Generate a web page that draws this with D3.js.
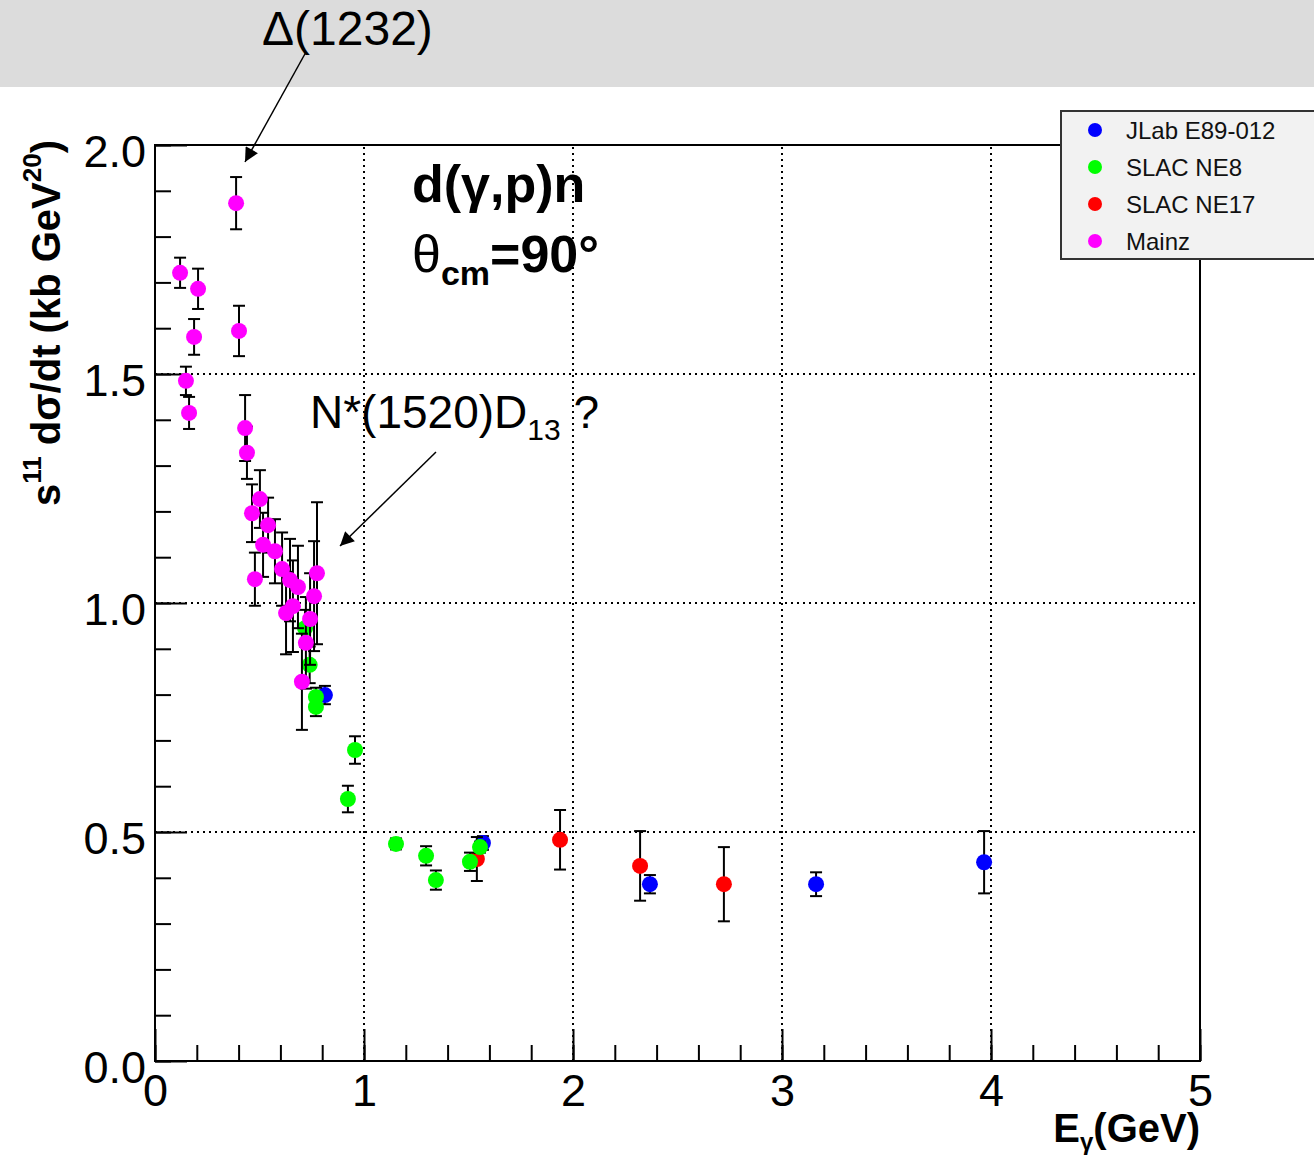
<!DOCTYPE html>
<html>
<head>
<meta charset="utf-8">
<script src="https://cdn.jsdelivr.net/npm/d3@7"></script>
<style>
  body { margin: 0; background: #fff; }
  text { font-family: "Liberation Sans", Arial, sans-serif; }
</style>
</head>
<body>
<div id="chart"></div>
<script>
// Data: E (GeV), value, error
const jlab = [
  [0.813, 0.799, 0.02], [1.569, 0.476, 0.015], [2.368, 0.386, 0.02],
  [3.163, 0.386, 0.026], [3.967, 0.434, 0.068]
];
const slacNE17 = [
  [1.540, 0.441, 0.048], [1.938, 0.483, 0.065], [2.321, 0.426, 0.076],
  [2.722, 0.386, 0.081]
];
const slacNE8 = [
  [0.718, 0.945, 0.04], [0.740, 0.865, 0.04], [0.770, 0.795, 0.02],
  [0.770, 0.773, 0.02], [0.923, 0.572, 0.029], [0.957, 0.679, 0.030],
  [1.153, 0.474, 0.012], [1.297, 0.448, 0.021], [1.344, 0.395, 0.021],
  [1.507, 0.435, 0.020], [1.555, 0.467, 0.012]
];
const mainz = [
  [0.388, 1.873, 0.057], [0.120, 1.721, 0.033], [0.206, 1.686, 0.044],
  [0.187, 1.581, 0.039], [0.402, 1.594, 0.055], [0.148, 1.485, 0.031],
  [0.163, 1.415, 0.035], [0.431, 1.382, 0.072], [0.440, 1.328, 0.057],
  [0.502, 1.227, 0.063], [0.464, 1.196, 0.063], [0.541, 1.170, 0.060],
  [0.517, 1.127, 0.070], [0.574, 1.113, 0.070], [0.478, 1.052, 0.058],
  [0.608, 1.074, 0.080], [0.646, 1.050, 0.090], [0.684, 1.035, 0.090],
  [0.775, 1.065, 0.155], [0.761, 1.015, 0.120], [0.660, 0.993, 0.100],
  [0.627, 0.978, 0.090], [0.742, 0.965, 0.100], [0.722, 0.913, 0.100],
  [0.703, 0.828, 0.105]
];

const seriesNames = ["JLab E89-012", "SLAC NE8", "SLAC NE17", "Mainz"];
const seriesColors = ["#0000ff", "#00ff00", "#ff0000", "#ff00ff"];
// drawing order (bottom to top)
const drawOrder = [[jlab, "#0000ff"], [slacNE17, "#ff0000"], [slacNE8, "#00ff00"], [mainz, "#ff00ff"]];

const xTicks = [0, 1, 2, 3, 4, 5];
const yTicks = [0, 0.5, 1.0, 1.5, 2.0];
const gridX = [1, 2, 3, 4];
const gridY = [0.5, 1.0, 1.5];

const W = 1314, H = 1155;
const svg = d3.select("#chart").append("svg")
    .attr("width", W).attr("height", H);

svg.append("rect").attr("width", W).attr("height", H).attr("fill", "#fff");
svg.append("rect").attr("width", W).attr("height", 87).attr("fill", "#dcdcdc");

const x = d3.scaleLinear().domain([0, 5]).range([155, 1200]);
const y = d3.scaleLinear().domain([0, 2]).range([1061, 145]);

// grid
svg.append("g").selectAll("line").data(gridX).enter().append("line")
    .attr("x1", d => x(d)).attr("x2", d => x(d))
    .attr("y1", y(0)).attr("y2", y(2))
    .attr("stroke", "#000").attr("stroke-width", 2).attr("stroke-dasharray", "2,4");
svg.append("g").selectAll("line").data(gridY).enter().append("line")
    .attr("x1", x(0)).attr("x2", x(5))
    .attr("y1", d => y(d)).attr("y2", d => y(d))
    .attr("stroke", "#000").attr("stroke-width", 2).attr("stroke-dasharray", "2,4");

// axes
const fontTick = 45;
svg.append("g").attr("transform", `translate(${x(0)},0)`)
    .call(d3.axisLeft(y).tickValues(d3.range(0, 2.001, 0.1)).tickSize(-16).tickFormat(""))
    .call(g => g.select(".domain").remove());
svg.append("g").attr("transform", `translate(${x(0)},0)`)
    .call(d3.axisLeft(y).tickValues(yTicks).tickSize(-32).tickPadding(9).tickFormat(d3.format(".1f")))
    .call(g => g.select(".domain").remove())
    .call(g => g.selectAll("text").attr("font-size", fontTick).attr("font-family", "Liberation Sans, Arial").attr("dy", "0.48em"));

svg.append("g").attr("transform", `translate(0,${y(0)})`)
    .call(d3.axisBottom(x).tickValues(d3.range(0, 5.001, 0.2)).tickSize(-16).tickFormat(""))
    .call(g => g.select(".domain").remove());
svg.append("g").attr("transform", `translate(0,${y(0)})`)
    .call(d3.axisBottom(x).tickValues(xTicks).tickSize(-32).tickPadding(13).tickFormat(d3.format("d")))
    .call(g => g.select(".domain").remove())
    .call(g => g.selectAll("text").attr("font-size", fontTick).attr("font-family", "Liberation Sans, Arial"));

svg.selectAll(".tick line").attr("stroke", "#000").attr("stroke-width", 2);

// frame
svg.append("rect")
    .attr("x", x(0)).attr("y", y(2))
    .attr("width", x(5) - x(0)).attr("height", y(0) - y(2))
    .attr("fill", "none").attr("stroke", "#000").attr("stroke-width", 2);

// data with error bars
const cap = 6;
drawOrder.forEach(([data, color]) => {
    const g = svg.append("g");
    g.selectAll("line.err").data(data).enter().append("line")
        .attr("x1", d => x(d[0])).attr("x2", d => x(d[0]))
        .attr("y1", d => y(d[1] - d[2])).attr("y2", d => y(d[1] + d[2]))
        .attr("stroke", "#000").attr("stroke-width", 2);
    g.selectAll("line.capT").data(data).enter().append("line")
        .attr("x1", d => x(d[0]) - cap).attr("x2", d => x(d[0]) + cap)
        .attr("y1", d => y(d[1] + d[2])).attr("y2", d => y(d[1] + d[2]))
        .attr("stroke", "#000").attr("stroke-width", 2);
    g.selectAll("line.capB").data(data).enter().append("line")
        .attr("x1", d => x(d[0]) - cap).attr("x2", d => x(d[0]) + cap)
        .attr("y1", d => y(d[1] - d[2])).attr("y2", d => y(d[1] - d[2]))
        .attr("stroke", "#000").attr("stroke-width", 2);
    g.selectAll("circle").data(data).enter().append("circle")
        .attr("cx", d => x(d[0])).attr("cy", d => y(d[1]))
        .attr("r", 8).attr("fill", color);
});

// axis titles
svg.append("text")
    .attr("transform", "translate(60,140) rotate(-90)")
    .attr("text-anchor", "end")
    .attr("font-size", 40).attr("font-weight", "bold")
    .call(t => {
        t.append("tspan").text("s");
        t.append("tspan").attr("font-size", 26).attr("dy", -19).text("11");
        t.append("tspan").attr("dy", 19).text(" dσ/dt (kb GeV");
        t.append("tspan").attr("font-size", 26).attr("dy", -19).text("20");
        t.append("tspan").attr("dy", 19).text(")");
    });

svg.append("text")
    .attr("x", 1200).attr("y", 1142)
    .attr("text-anchor", "end")
    .attr("font-size", 40).attr("font-weight", "bold")
    .call(t => {
        t.append("tspan").text("E");
        t.append("tspan").attr("font-size", 24).attr("dy", 8).text("γ");
        t.append("tspan").attr("dy", -8).text("(GeV)");
    });

// in-plot labels
svg.append("text").attr("x", 412).attr("y", 202)
    .attr("font-size", 52).attr("font-weight", "bold").text("d(γ,p)n");
svg.append("text").attr("x", 412).attr("y", 272)
    .attr("font-size", 52).attr("font-weight", "bold")
    .call(t => {
        t.append("tspan").attr("font-weight", "normal").text("θ");
        t.append("tspan").attr("font-size", 34).attr("dy", 13).text("cm");
        t.append("tspan").attr("dy", -13).text("=90°");
    });

// annotations
const defs = svg.append("defs");
defs.append("marker").attr("id", "arrow")
    .attr("viewBox", "0 0 10 10").attr("refX", 10).attr("refY", 5)
    .attr("markerWidth", 20).attr("markerHeight", 14)
    .attr("markerUnits", "userSpaceOnUse")
    .attr("orient", "auto")
    .append("path").attr("d", "M0,0 L10,5 L0,10 z").attr("fill", "#000");

svg.append("text").attr("x", 262).attr("y", 45)
    .attr("font-size", 48).text("Δ(1232)");
svg.append("line")
    .attr("x1", 306).attr("y1", 52).attr("x2", 245).attr("y2", 162)
    .attr("stroke", "#000").attr("stroke-width", 1.5).attr("marker-end", "url(#arrow)");

svg.append("text").attr("x", 310).attr("y", 428)
    .attr("font-size", 46)
    .call(t => {
        t.append("tspan").text("N*(1520)D");
        t.append("tspan").attr("font-size", 30).attr("dy", 12).text("13");
        t.append("tspan").attr("dy", -12).text(" ?");
    });
svg.append("line")
    .attr("x1", 436).attr("y1", 452).attr("x2", 340).attr("y2", 546)
    .attr("stroke", "#000").attr("stroke-width", 1.5).attr("marker-end", "url(#arrow)");

// legend
const leg = svg.append("g");
leg.append("rect").attr("x", 1061).attr("y", 111).attr("width", 270).attr("height", 148)
    .attr("fill", "#f2f2f2").attr("stroke", "#333").attr("stroke-width", 2);
seriesNames.forEach((name, i) => {
    const ly = 130 + i * 37;
    leg.append("circle").attr("cx", 1095).attr("cy", ly).attr("r", 7).attr("fill", seriesColors[i]);
    leg.append("text").attr("x", 1126).attr("y", ly + 8.5).attr("font-size", 24).attr("fill", "#111").text(name);
});
</script>
</body>
</html>
